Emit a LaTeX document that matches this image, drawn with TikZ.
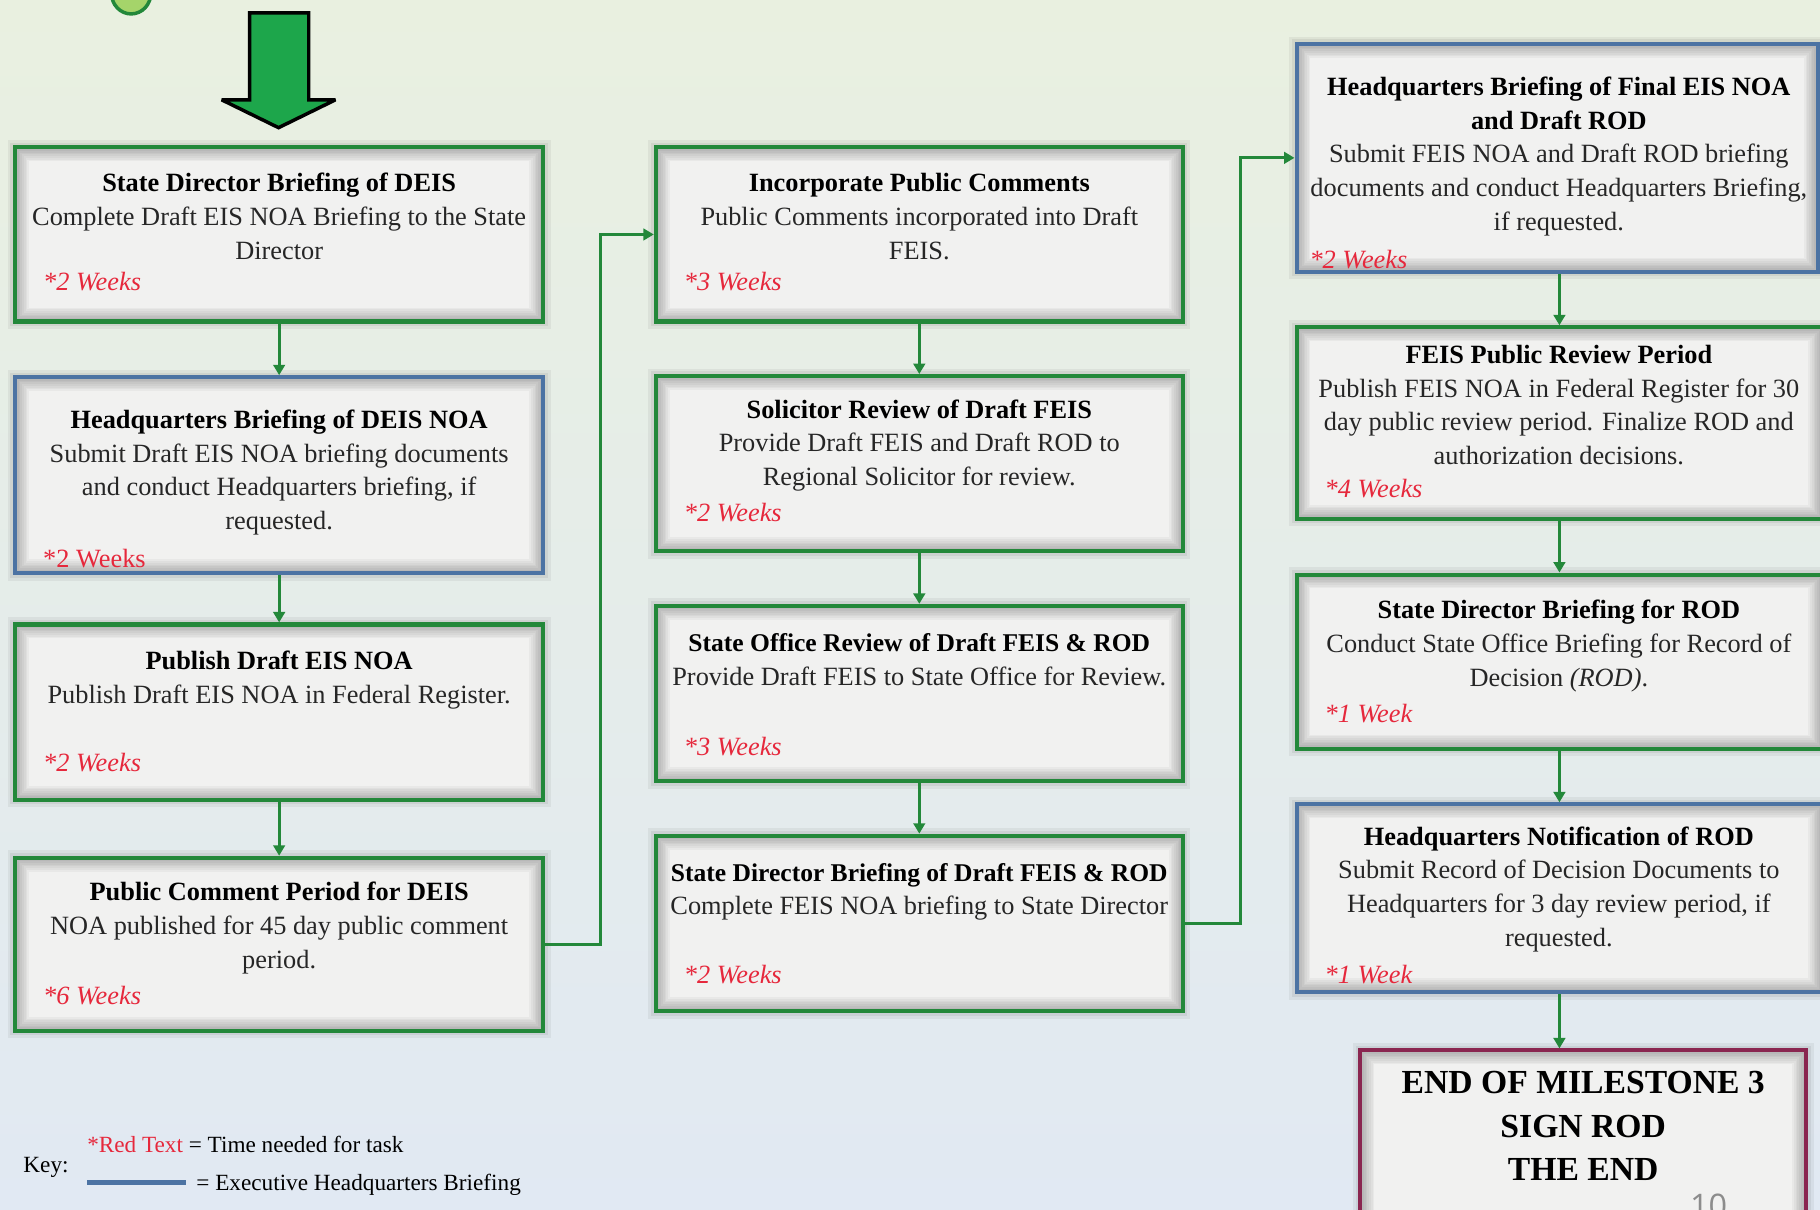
\documentclass[tikz,border=0pt]{standalone}
\usepackage{fontspec}
\setmainfont{Liberation Serif}
\newfontfamily\numfont{Open Sans}
\usetikzlibrary{arrows.meta}
\definecolor{bgtop}{HTML}{E9F0E0}
\definecolor{bgbot}{HTML}{E1E9F3}
\definecolor{boxfill}{HTML}{F1F1F0}
\definecolor{bgreen}{HTML}{23883A}
\definecolor{bblue}{HTML}{4C73A3}
\definecolor{endmaroon}{HTML}{8A2650}
\definecolor{wkred}{HTML}{E6283C}
\definecolor{bodytxt}{HTML}{262626}
\definecolor{arrowgreen}{HTML}{1DA64B}
\definecolor{dotgreen}{HTML}{A5D46A}
\tikzset{
  glow/.style={path picture={
      \foreach \i in {1,...,8}{
        \draw[black,opacity=0.035,line width=\i*3pt]
          (path picture bounding box.north west) rectangle (path picture bounding box.south east);}
  }},
  taskbox/.style={draw=#1, line width=3.5pt, fill=boxfill, inner sep=0pt, glow,
    preaction={draw=black,opacity=0.05,line width=13pt},
    preaction={draw=black,opacity=0.06,line width=8pt}},
  txt/.style={anchor=north, inner sep=0pt, align=center, text=bodytxt,
    font=\fontsize{22.7}{29}\selectfont},
  wk/.style={anchor=base west, inner sep=0pt, text=wkred,
    font=\fontsize{22.7}{27}\selectfont\itshape},
  wkup/.style={anchor=base west, inner sep=0pt, text=wkred,
    font=\fontsize{22.7}{27}\selectfont},
  conn/.style={draw=bgreen, line width=2.6pt, -{Triangle[width=10pt,length=9pt]}},
  keytxt/.style={inner sep=0pt, text=black, font=\fontsize{20}{24}\selectfont},
}
\newcommand{\ttl}[1]{{\color{black}\bfseries\rule{0pt}{16pt}#1}}
\newcommand{\ttlb}[1]{{\color{black}\bfseries\fontsize{22}{29}\selectfont\rule{0pt}{16pt}#1}}
\begin{document}
\begin{tikzpicture}[x=1pt,y=-1pt]
\useasboundingbox (0,0) rectangle (1568,1042);
\clip (0,0) rectangle (1568,1042);
\shade[top color=bgtop,bottom color=bgbot] (0,0) rectangle (1568,1042);

% top decorations
\draw[draw=bgreen, line width=3pt, fill=dotgreen] (113,-6) ellipse [x radius=17, y radius=18];
\draw[fill=arrowgreen, draw=black, line width=3pt, line join=miter, miter limit=3]
  (215,11) -- (266,11) -- (266,86) -- (289,86) -- (240,110) -- (191,86) -- (215,86) -- cycle;

% column 1
\node[taskbox=bgreen, minimum width=455, minimum height=150] (b1) at (240.5,202) {};
\node[txt] (b1t) at (240.5,149) {\ttl{State Director Briefing of DEIS}\\Complete Draft EIS NOA Briefing to the State\\Director};
\node[wk] (b1w) at (37,250.5) {*2 Weeks};

\node[taskbox=bblue, minimum width=455, minimum height=169] (b2) at (240.5,409.5) {};
\node[txt] (b2t) at (240.5,353) {\ttl{Headquarters Briefing of DEIS NOA}\\Submit Draft EIS NOA briefing documents\\and conduct Headquarters briefing, if\\requested.};
\node[wkup] (b2w) at (37,488.5) {*2 Weeks};

\node[taskbox=bgreen, minimum width=455, minimum height=151] (b3) at (240.5,613.5) {};
\node[txt] (b3t) at (240.5,561) {\ttl{Publish Draft EIS NOA}\\Publish Draft EIS NOA in Federal Register.};
\node[wk] (b3w) at (37,664.5) {*2 Weeks};

\node[taskbox=bgreen, minimum width=455, minimum height=149] (b4) at (240.5,813.5) {};
\node[txt] (b4t) at (240.5,760) {\ttl{Public Comment Period for DEIS}\\NOA published for 45 day public comment\\period.};
\node[wk] (b4w) at (37,865.5) {*6 Weeks};

% column 2
\node[taskbox=bgreen, minimum width=454, minimum height=150] (b5) at (792,202) {};
\node[txt] (b5t) at (792,149) {\ttl{Incorporate Public Comments}\\Public Comments incorporated into Draft\\FEIS.};
\node[wk] (b5w) at (589,250.5) {*3 Weeks};

\node[taskbox=bgreen, minimum width=454, minimum height=151] (b6) at (792,399.5) {};
\node[txt] (b6t) at (792,344) {\ttl{Solicitor Review of Draft FEIS}\\Provide Draft FEIS and Draft ROD to\\Regional Solicitor for review.};
\node[wk] (b6w) at (589,449.5) {*2 Weeks};

\node[taskbox=bgreen, minimum width=454, minimum height=151] (b7) at (792,597.5) {};
\node[txt] (b7t) at (792,545) {\ttlb{State Office Review of Draft FEIS \& ROD}\\Provide Draft FEIS to State Office for Review.};
\node[wk] (b7w) at (589,650.5) {*3 Weeks};

\node[taskbox=bgreen, minimum width=454, minimum height=151] (b8) at (792,795.5) {};
\node[txt] (b8t) at (792,743) {\ttlb{State Director Briefing of Draft FEIS \& ROD}\\Complete FEIS NOA briefing to State Director};
\node[wk] (b8w) at (589,847.5) {*2 Weeks};

% column 3
\node[taskbox=bblue, minimum width=449, minimum height=196] (b9) at (1341.5,136) {};
\node[txt] (b9t) at (1343,66) {\ttl{Headquarters Briefing of Final EIS NOA}\\\ttl{and Draft ROD}\\Submit FEIS NOA and Draft ROD briefing\\documents and conduct Headquarters Briefing,\\if requested.};
\node[wk] (b9w) at (1128,231.5) {*2 Weeks};

\node[taskbox=bgreen, minimum width=453, minimum height=165] (b10) at (1343.5,364.5) {};
\node[txt] (b10t) at (1343,297) {\ttl{FEIS Public Review Period}\\Publish FEIS NOA in Federal Register for 30\\day public review period. Finalize ROD and\\authorization decisions.};
\node[wk] (b10w) at (1141,428.5) {*4 Weeks};

\node[taskbox=bgreen, minimum width=453, minimum height=150] (b11) at (1343.5,570) {};
\node[txt] (b11t) at (1343,517) {\ttl{State Director Briefing for ROD}\\Conduct State Office Briefing for Record of\\Decision \textit{(ROD)}.};
\node[wk] (b11w) at (1141,622.5) {*1 Week};

\node[taskbox=bblue, minimum width=453, minimum height=162] (b12) at (1343.5,774) {};
\node[txt] (b12t) at (1343,712) {\ttl{Headquarters Notification of ROD}\\Submit Record of Decision Documents to\\Headquarters for 3 day review period, if\\requested.};
\node[wk] (b12w) at (1141,847.5) {*1 Week};

\node[taskbox=endmaroon, minimum width=384, minimum height=150] (end) at (1364,980) {};
\node[txt, text=black, font=\fontsize{29}{37.5}\selectfont\bfseries] (endt) at (1364,921)
  {\rule{0pt}{21pt}END OF MILESTONE 3\\SIGN ROD\\THE END};

% connectors
\draw[conn] (b1.south) -- (b2.north);
\draw[conn] (b2.south) -- (b3.north);
\draw[conn] (b3.south) -- (b4.north);
\draw[conn] (b5.south) -- (b6.north);
\draw[conn] (b6.south) -- (b7.north);
\draw[conn] (b7.south) -- (b8.north);
\draw[conn] (b9.south -| b10.north) -- (b10.north);
\draw[conn] (b10.south) -- (b11.north);
\draw[conn] (b11.south) -- (b12.north);
\draw[conn] (b12.south) -- (b12.south |- end.north);
\draw[conn] (b4.east) -- ++(48,0) |- (b5.west);
\draw[conn] (b8.east) -- ++(48,0) |- (b9.west);

% key
\node[keytxt, anchor=base west] (key) at (20,1010) {Key:};
\node[keytxt, anchor=base west] (k1) at (75,993) {\textcolor{wkred}{*Red Text} = Time needed for task};
\draw[bblue, line width=4pt] (75,1019) -- (160,1019);
\node[keytxt, anchor=base west] (k2) at (169,1026) {= Executive Headquarters Briefing};

% page number
\node[text=black!45, inner sep=0pt, anchor=base, font=\numfont\fontsize{28}{30}\selectfont] (pg) at (1472,1049) {10};
\end{tikzpicture}
\end{document}
